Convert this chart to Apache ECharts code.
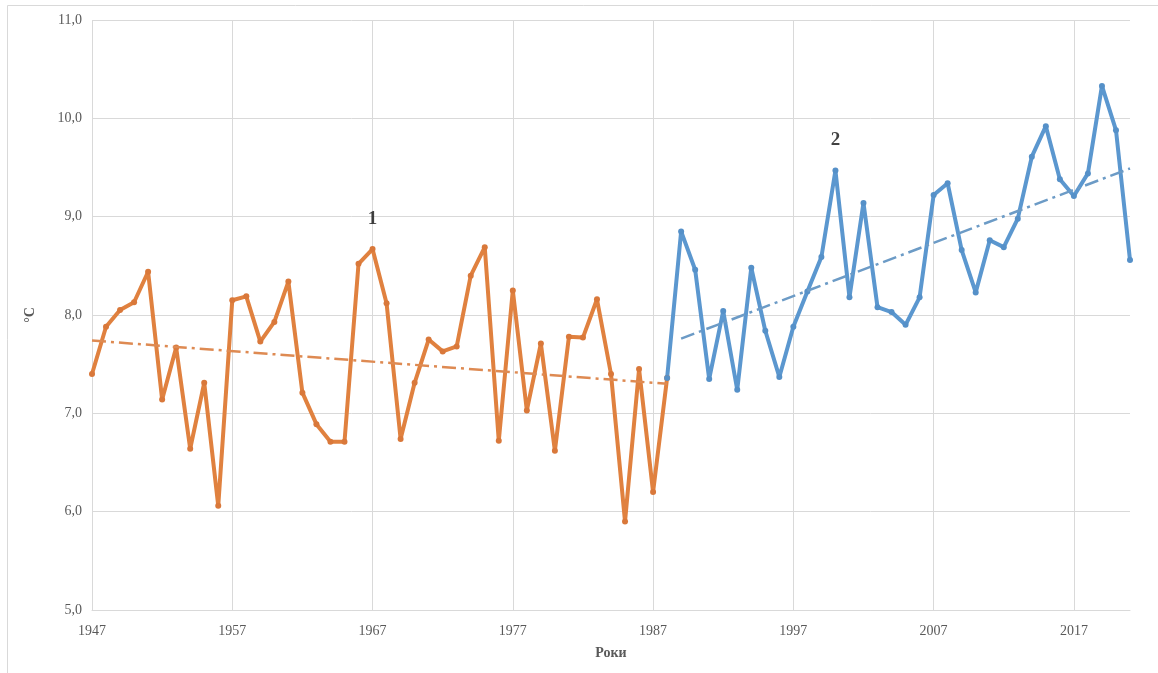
<!DOCTYPE html>
<html>
<head>
<meta charset="utf-8">
<script src="https://cdn.jsdelivr.net/npm/echarts@6/dist/echarts.min.js"></script>
<style>
html,body{margin:0;padding:0;background:#fff;}
#chart{width:1158px;height:673px;}
</style>
</head>
<body>
<div id="chart"></div>
<script>
// Years 1947..2021
const years = [];
for (let y = 1947; y <= 2021; y++) years.push(String(y));

// Period 1: 1947–1988
const period1Years = ['1947','1948','1949','1950','1951','1952','1953','1954','1955','1956',
  '1957','1958','1959','1960','1961','1962','1963','1964','1965','1966',
  '1967','1968','1969','1970','1971','1972','1973','1974','1975','1976',
  '1977','1978','1979','1980','1981','1982','1983','1984','1985','1986',
  '1987','1988'];
const period1Values = [7.40,7.88,8.05,8.13,8.44,7.14,7.67,6.64,7.31,6.06,
  8.15,8.19,7.73,7.93,8.34,7.21,6.89,6.71,6.71,8.52,
  8.67,8.12,6.74,7.31,7.75,7.63,7.68,8.40,8.69,6.72,
  8.25,7.03,7.71,6.62,7.78,7.77,8.16,7.40,5.90,7.45,
  6.20,7.36];

// Period 2: 1988–2021
const period2Years = ['1988','1989','1990','1991','1992','1993','1994','1995','1996','1997',
  '1998','1999','2000','2001','2002','2003','2004','2005','2006','2007',
  '2008','2009','2010','2011','2012','2013','2014','2015','2016','2017',
  '2018','2019','2020','2021'];
const period2Values = [7.36,8.85,8.46,7.35,8.04,7.24,8.48,7.84,7.37,7.88,
  8.24,8.59,9.47,8.18,9.14,8.08,8.03,7.90,8.18,9.22,
  9.34,8.66,8.23,8.76,8.69,8.98,9.61,9.92,9.38,9.21,
  9.44,10.33,9.88,8.56];

// Trend line endpoints
const trend1Years = ['1947','1988'];
const trend1Values = [7.74, 7.30];
const trend2Years = ['1989','2021'];
const trend2Values = [7.76, 9.49];

// Period labels
const periodLabels = ['1','2'];
const periodLabelYears = ['1967','2000'];
const periodLabelValues = [8.98, 9.78];

const yTicks = [5,6,7,8,9,10,11];

const zip = (xs, vs) => xs.map((x, i) => [x, vs[i]]);

const FONT = '"Liberation Serif", "DejaVu Serif", serif';
const ORANGE = '#E0813F';
const BLUE = '#5B97CF';

const chart = echarts.init(document.getElementById('chart'));
chart.setOption({
  backgroundColor: '#fff',
  animation: false,
  graphic: [{
    type: 'rect',
    shape: { x: 7.5, y: 5.5, width: 1200, height: 700 },
    style: { fill: 'none', stroke: '#d9d9d9', lineWidth: 1 },
    z: -1
  }],
  grid: { left: 92, right: 28, top: 20, bottom: 63 },
  xAxis: {
    type: 'category',
    data: years,
    boundaryGap: false,
    name: 'Роки',
    nameLocation: 'middle',
    nameGap: 36,
    nameTextStyle: { fontFamily: FONT, fontWeight: 'bold', fontSize: 14, color: '#595959' },
    axisLine: { show: true, lineStyle: { color: '#d9d9d9', width: 1 } },
    axisTick: { show: false },
    axisLabel: { interval: 9, fontFamily: FONT, fontSize: 14, color: '#595959', margin: 14 },
    splitLine: { show: true, interval: 9, lineStyle: { color: '#d9d9d9', width: 1 } }
  },
  yAxis: {
    type: 'value',
    min: yTicks[0],
    max: yTicks[yTicks.length - 1],
    interval: 1,
    name: '°C',
    nameLocation: 'middle',
    nameGap: 55,
    nameRotate: 90,
    nameTextStyle: { fontFamily: FONT, fontWeight: 'bold', fontSize: 14, color: '#595959' },
    axisLine: { show: false },
    axisTick: { show: false },
    axisLabel: {
      fontFamily: FONT, fontSize: 14, color: '#595959', margin: 10,
      formatter: v => v.toFixed(1).replace('.', ',')
    },
    splitLine: { show: true, lineStyle: { color: '#d9d9d9', width: 1 } }
  },
  series: [
    {
      name: 'Період 1', type: 'line', data: zip(period1Years, period1Values),
      symbol: 'circle', symbolSize: 6, showSymbol: true,
      lineStyle: { color: ORANGE, width: 4 },
      itemStyle: { color: '#D9783A' }, z: 3
    },
    {
      name: 'Період 2', type: 'line', data: zip(period2Years, period2Values),
      symbol: 'circle', symbolSize: 6, showSymbol: true,
      lineStyle: { color: BLUE, width: 4 },
      itemStyle: { color: '#5590C8' }, z: 3
    },
    {
      name: 'Тренд 1', type: 'line', data: zip(trend1Years, trend1Values),
      symbol: 'none',
      lineStyle: { color: '#DE8A52', width: 2.5, type: [14, 5, 3, 5] }, z: 4
    },
    {
      name: 'Тренд 2', type: 'line', data: zip(trend2Years, trend2Values),
      symbol: 'none',
      lineStyle: { color: '#6C9BC6', width: 2.5, type: [14, 5, 3, 5] }, z: 4
    },
    {
      name: 'labels', type: 'scatter',
      data: periodLabelYears.map((y, i) => ({ value: [y, periodLabelValues[i]], label: { formatter: periodLabels[i] } })),
      symbolSize: 1,
      itemStyle: { color: 'rgba(0,0,0,0)' },
      label: { show: true, position: 'inside', fontFamily: FONT, fontWeight: 'bold', fontSize: 19, color: '#111' },
      silent: true, z: 5
    }
  ]
});
</script>
</body>
</html>
